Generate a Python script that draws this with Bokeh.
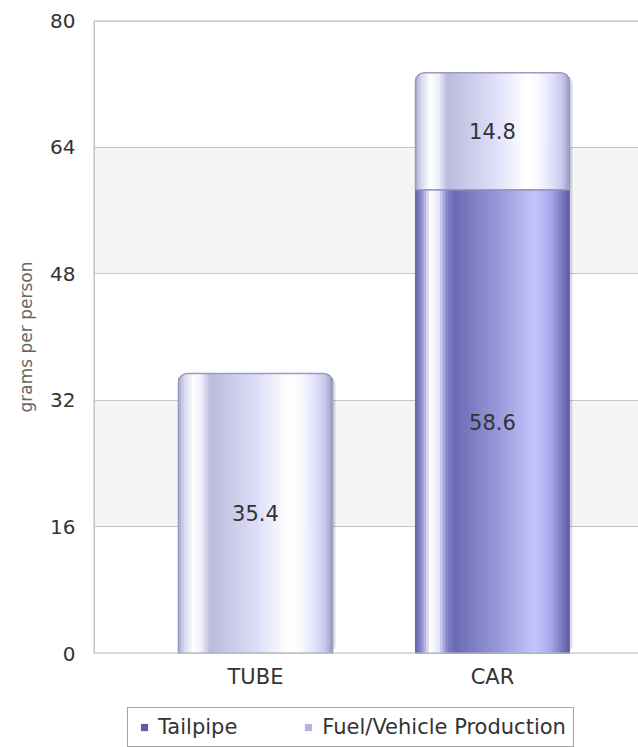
import numpy as np
from bokeh.plotting import figure
from bokeh.layouts import column
from bokeh.models import Range1d, FixedTicker, ColumnDataSource, Legend, LegendItem, Span
from bokeh.core.properties import value
from bokeh.embed import file_html
from bokeh.resources import INLINE

# ---------------- data ----------------
categories = ["TUBE", "CAR"]
tailpipe = [0.0, 58.6]
fuel_production = [35.4, 14.8]
series_names = ["Tailpipe", "Fuel/Vehicle Production"]
y_ticks = [0, 16, 32, 48, 64, 80]
y_title = "grams per person"

# ---------------- layout / style ----------------
W = 638
H_MAIN, H_LEG = 707, 40
LEFT, TOP, BOTTOM = 93, 20, 54
LEG_LEFT = 127
FRAME_W = W - LEFT
FRAME_H = H_MAIN - TOP - BOTTOM
X_START, X_END = -0.6835, 1.616
Y_MAX = 80
PX_X = FRAME_W / (X_END - X_START)
PX_Y = FRAME_H / Y_MAX
BAR_W = 0.65
RADIUS = 9
FONT = "DejaVu Sans"

DARK_KEY = "#5c5cac"
LIGHT_KEY = "#b4b4dc"
DARK_STOPS = [(0.00, "#6464ac"), (0.04, "#8a8ace"), (0.10, "#ffffff"), (0.15, "#e8e8ff"),
              (0.21, "#8080c8"), (0.26, "#6b6bb5"), (0.55, "#9a9adc"), (0.78, "#c4c4fc"),
              (0.88, "#a8a8ec"), (0.96, "#7474bc"), (1.00, "#5c5ca4")]
LIGHT_STOPS = [(0.00, "#a8a8cc"), (0.04, "#d8d8f0"), (0.10, "#ffffff"), (0.15, "#f0f0fc"),
               (0.21, "#babadc"), (0.50, "#dcdcf8"), (0.72, "#ffffff"), (0.80, "#fafaff"),
               (0.90, "#dcdcf8"), (0.96, "#c4c4e8"), (1.00, "#9c9cc4")]


def hex2rgb(h):
    return [int(h[i:i + 2], 16) for i in (1, 3, 5)]


def interp(stops, f):
    fs = [s[0] for s in stops]
    cols = np.array([hex2rgb(s[1]) for s in stops], dtype=float)
    rgb = [np.interp(f, fs, cols[:, k]) for k in range(3)]
    return "#%02x%02x%02x" % tuple(int(round(c)) for c in rgb)


p = figure(width=W, height=H_MAIN, output_backend="svg", toolbar_location=None,
           x_range=Range1d(X_START, X_END), y_range=Range1d(0, Y_MAX),
           min_border_left=LEFT, min_border_top=TOP, min_border_bottom=BOTTOM,
           min_border_right=0)
p.outline_line_color = None
p.background_fill_color = "white"
p.border_fill_color = "white"

# grid with alternating bands
p.xgrid.visible = False
p.ygrid.ticker = FixedTicker(ticks=y_ticks)
p.ygrid.grid_line_color = "#c6c6c6"
p.ygrid.grid_line_width = 1
p.ygrid.band_fill_color = "#f5f5f5"
p.ygrid.band_fill_alpha = 1.0

# frame borders
p.add_layout(Span(location=X_START, dimension="height", line_color="#c4c4c4", line_width=3))
p.add_layout(Span(location=Y_MAX, dimension="width", line_color="#c4c4c4", line_width=3))
p.add_layout(Span(location=0, dimension="width", line_color="#b8b8b8", line_width=2))

# ---------------- bars ----------------
xs = list(range(len(categories)))
N = 56
bar_px = BAR_W * PX_X
strips = dict(x=[], bottom=[], top=[], color=[])
top_seg = dict(x=[], bottom=[], top=[])
low_seg = dict(x=[], bottom=[], top=[])
shadow = dict(x=[], top=[])
labels = dict(x=[], y=[], t=[])


def add_segment(xc, b, t, stops, rounded):
    for i in range(N):
        f = (i + 0.5) / N
        d = f * bar_px
        drop = 0.0
        if rounded:
            e = min(d, bar_px - d)
            if e < RADIUS:
                drop = RADIUS - np.sqrt(RADIUS ** 2 - (RADIUS - e) ** 2)
        strips["x"].append(xc - BAR_W / 2 + f * BAR_W)
        strips["bottom"].append(b)
        strips["top"].append(t - drop / PX_Y)
        strips["color"].append(interp(stops, f))


for xc, tail, fuel in zip(xs, tailpipe, fuel_production):
    total = tail + fuel
    shadow["x"].append(xc + 3 / PX_X)
    shadow["top"].append(total - 2 / PX_Y)
    if tail > 0:
        seg = top_seg if fuel == 0 else low_seg
        add_segment(xc, 0, tail, DARK_STOPS, rounded=(fuel == 0))
        seg["x"].append(xc)
        seg["bottom"].append(0)
        seg["top"].append(tail)
        labels["x"].append(xc)
        labels["y"].append(tail / 2)
        labels["t"].append(f"{tail:.1f}")
    if fuel > 0:
        add_segment(xc, tail, total, LIGHT_STOPS, rounded=True)
        top_seg["x"].append(xc)
        top_seg["bottom"].append(tail)
        top_seg["top"].append(total)
        labels["x"].append(xc)
        labels["y"].append(tail + fuel / 2)
        labels["t"].append(f"{fuel:.1f}")

p.vbar(x="x", top="top", bottom=0, width=BAR_W, source=ColumnDataSource(shadow),
       fill_color="black", fill_alpha=0.13, line_color=None, border_radius=RADIUS)
p.vbar(x="x", bottom="bottom", top="top", width=BAR_W / N * 1.25,
       source=ColumnDataSource(strips), fill_color="color", line_color=None)
p.vbar(x="x", bottom="bottom", top="top", width=BAR_W, source=ColumnDataSource(low_seg),
       fill_color=None, line_color="#6a6aa8", line_width=1)
p.vbar(x="x", bottom="bottom", top="top", width=BAR_W, source=ColumnDataSource(top_seg),
       fill_color=None, line_color="#9a9ac0", line_width=1.5, border_radius=(RADIUS, RADIUS, 0, 0))

p.text(x="x", y="y", text="t", source=ColumnDataSource(labels),
       text_font=value(FONT), text_font_size="21px", text_color="#333333",
       text_align="center", text_baseline="middle")

# ---------------- axes ----------------
p.xaxis.ticker = FixedTicker(ticks=xs)
p.xaxis.major_label_overrides = {i: c for i, c in enumerate(categories)}
p.xaxis.axis_line_color = None
p.xaxis.major_tick_line_color = None
p.xaxis.minor_tick_line_color = None
p.xaxis.major_tick_out = 0
p.xaxis.major_label_standoff = 11
p.xaxis.major_label_text_font = FONT
p.xaxis.major_label_text_font_size = "21px"
p.xaxis.major_label_text_color = "#333333"

p.yaxis.ticker = FixedTicker(ticks=y_ticks)
p.yaxis.axis_line_color = None
p.yaxis.major_tick_line_color = None
p.yaxis.minor_tick_line_color = None
p.yaxis.major_tick_out = 0
p.yaxis.major_label_standoff = 18
p.yaxis.major_label_text_font = FONT
p.yaxis.major_label_text_font_size = "20px"
p.yaxis.major_label_text_color = "#333333"
p.yaxis.axis_label = y_title
p.yaxis.axis_label_text_font = FONT
p.yaxis.axis_label_text_font_size = "17px"
p.yaxis.axis_label_text_font_style = "normal"
p.yaxis.axis_label_text_color = "#666666"
p.yaxis.axis_label_standoff = 11

# ---------------- legend (own strip below the chart; frames are aligned) ----------------
q = figure(width=W, height=H_LEG, output_backend="svg", toolbar_location=None,
           x_range=Range1d(0, 1), y_range=Range1d(0, 1),
           x_axis_location=None, y_axis_location=None,
           min_border_left=LEFT, min_border_right=0,
           min_border_top=0, min_border_bottom=0)
q.outline_line_color = None
q.xgrid.visible = False
q.ygrid.visible = False
q.background_fill_color = "white"
q.border_fill_color = "white"

# key glyphs: one hidden sample each (outside the visible range), only used by the legend
r_dark = q.scatter(x=[-1], y=[-1], marker="square", size=7, fill_color=DARK_KEY, line_color=None)
r_light = q.scatter(x=[-1], y=[-1], marker="square", size=7, fill_color=LIGHT_KEY, line_color=None)
legend = Legend(items=[LegendItem(label=series_names[0], renderers=[r_dark]),
                       LegendItem(label=series_names[1], renderers=[r_light])],
                orientation="horizontal", location=(LEG_LEFT - LEFT, 0),
                glyph_width=18, glyph_height=18, label_standoff=5, spacing=62,
                padding=7, margin=0,
                label_text_font=FONT, label_text_font_size="21px", label_text_color="#333333",
                border_line_color="#4a4a4a", border_line_width=1,
                background_fill_color="white", background_fill_alpha=1.0)
q.add_layout(legend)

layout = column(p, q, spacing=0)
open("out.html", "w").write(file_html(layout, INLINE))
